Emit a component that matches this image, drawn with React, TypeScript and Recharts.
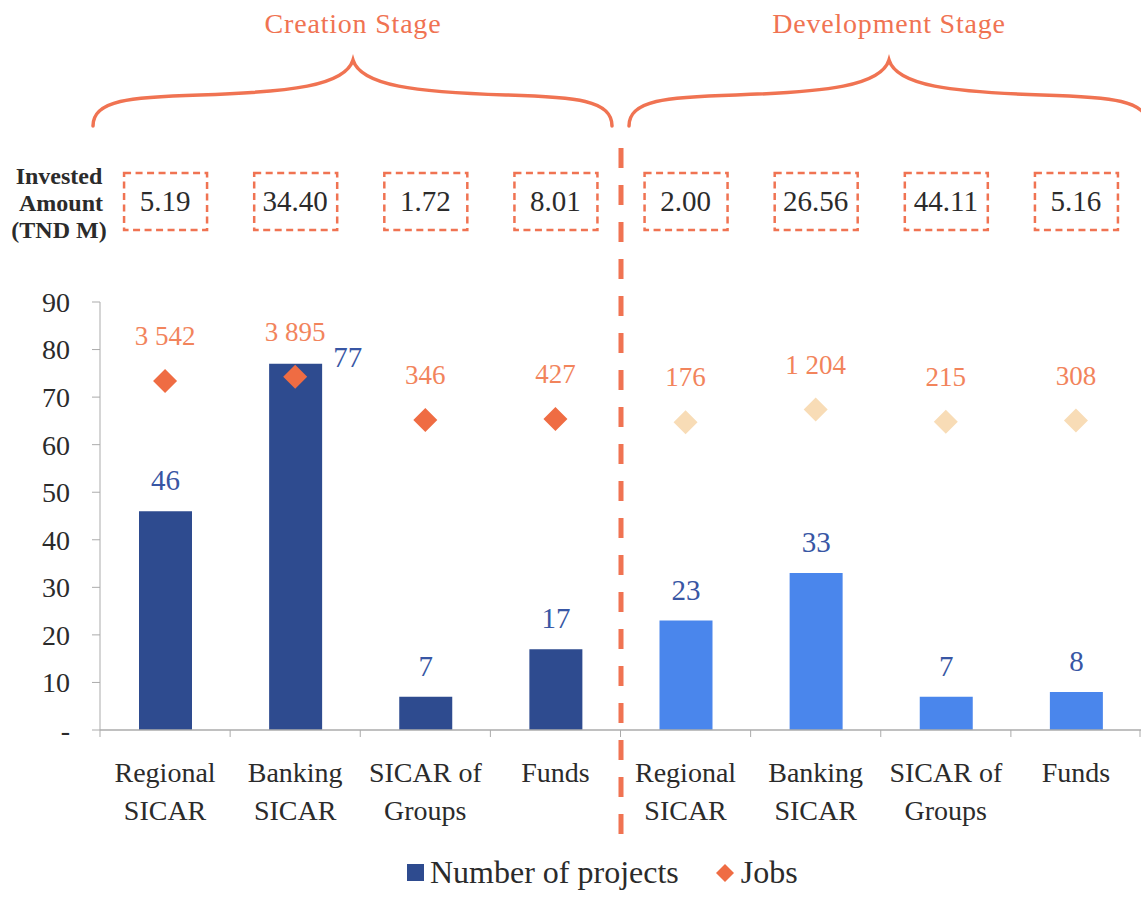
import { ComposedChart, Bar, Line, XAxis, YAxis, Cell, LabelList, Legend } from 'recharts';

const categories = [
  'Regional\nSICAR', 'Banking\nSICAR', 'SICAR of\nGroups', 'Funds',
  'Regional\nSICAR', 'Banking\nSICAR', 'SICAR of\nGroups', 'Funds',
];
const stages = ['Creation', 'Creation', 'Creation', 'Creation', 'Development', 'Development', 'Development', 'Development'];
const projects = [46, 77, 7, 17, 23, 33, 7, 8];
const jobs = [3542, 3895, 346, 427, 176, 1204, 215, 308];
const invested = ['5.19', '34.40', '1.72', '8.01', '2.00', '26.56', '44.11', '5.16'];
const yTicks = [0, 10, 20, 30, 40, 50, 60, 70, 80, 90];

const data = categories.map((name, i) => ({
  name,
  stage: stages[i],
  projects: projects[i],
  jobs: jobs[i],
}));

const W = 1141;
const H = 897;
const FONT = "'Liberation Serif', 'DejaVu Serif', serif";
const ORANGE = '#F07352';
const LABEL_ORANGE = '#F2845C';
const TEXT = '#2b2b2b';
const AXIS = '#ABABAB';
const Y_MAX = 90;
const JOBS_DOMAIN: [number, number] = [-25000, 10000];
const MARGIN = { top: 302, right: 0, bottom: 67, left: 0 };
const X_AXIS_H = 100;
const AXIS_Y = H - MARGIN.bottom - X_AXIS_H;

const barColor = (stage: string) => (stage === 'Creation' ? '#2E4B8F' : '#4A86EC');
const jobColor = (stage: string) => (stage === 'Creation' ? '#EF6C43' : '#F8DCB6');

function CategoryTick(props: any) {
  const { x, payload, index } = props;
  const half = payload?.offset || 65;
  const raw = payload?.value;
  const label = typeof raw === 'number' ? categories[raw] : String(raw);
  const lines = label.split('\n');
  const isLast = index === categories.length - 1;
  return (
    <g>
      <line x1={x - half} x2={x - half} y1={AXIS_Y} y2={AXIS_Y + 7} stroke={AXIS} />
      {isLast && <line x1={x + half - 1} x2={x + half - 1} y1={AXIS_Y} y2={AXIS_Y + 7} stroke={AXIS} />}
      <text x={x} y={AXIS_Y + 52} textAnchor="middle" fontFamily={FONT} fontSize={28} fill={TEXT}>
        {lines.map((l, i) => (
          <tspan key={i} x={x} dy={i === 0 ? 0 : 38}>{l}</tspan>
        ))}
      </text>
      {/* invested amount box above the plot */}
      <rect x={x - 41} y={173} width={83} height={57} fill="none" stroke={ORANGE} strokeWidth={2.5} strokeDasharray="7 4.5" />
      <text x={x} y={211} textAnchor="middle" fontFamily={FONT} fontSize={29} fill={TEXT}>
        {invested[index]}
      </text>
    </g>
  );
}

function BarValueLabel(props: any) {
  const x = Number(props.x);
  const y = Number(props.y);
  const width = Number(props.width);
  const { value, index } = props;
  const jobsLevel = ((jobs[index] - JOBS_DOMAIN[0]) / (JOBS_DOMAIN[1] - JOBS_DOMAIN[0])) * Y_MAX;
  const color = '#3856A4';
  if (value > jobsLevel) {
    return (
      <text x={x + width + 11} y={y + 3} textAnchor="start" fontFamily={FONT} fontSize={29} fill={color}>
        {value}
      </text>
    );
  }
  return (
    <text x={x + width / 2} y={y - 21} textAnchor="middle" fontFamily={FONT} fontSize={29} fill={color}>
      {value}
    </text>
  );
}

function JobsLabel(props: any) {
  const x = Number(props.x);
  const y = Number(props.y);
  const v = Number(props.value);
  const txt = v.toLocaleString('en-US').replace(/,/g, ' ');
  return (
    <text x={x} y={y - 36} textAnchor="middle" fontFamily={FONT} fontSize={27} fill={LABEL_ORANGE}>
      {txt}
    </text>
  );
}

function Diamond(props: any) {
  const { cx, cy, index } = props;
  if (cx == null || cy == null) return null;
  const r = 12;
  return (
    <polygon
      key={`d-${index}`}
      points={`${cx},${cy - r} ${cx + r},${cy} ${cx},${cy + r} ${cx - r},${cy}`}
      fill={jobColor(stages[index])}
    />
  );
}

function LegendContent() {
  return (
    <div style={{ display: 'flex', alignItems: 'center', fontFamily: FONT, fontSize: 32, color: TEXT, whiteSpace: 'nowrap' }}>
      <span style={{ display: 'inline-block', width: 17, height: 17, background: '#2E4B8F', marginRight: 6 }} />
      <span>Number of projects</span>
      <svg width={20} height={20} style={{ marginLeft: 36, marginRight: 6 }}>
        <polygon points="10,1 19,10 10,19 1,10" fill="#EF6C43" />
      </svg>
      <span>Jobs</span>
    </div>
  );
}

function Overlay() {
  return (
    <svg width={W} height={H} style={{ position: 'absolute', left: 0, top: 0, pointerEvents: 'none' }}>
      <text x={353} y={33} textAnchor="middle" fontFamily={FONT} fontSize={28} fill={ORANGE} letterSpacing={0.8}>
        Creation Stage
      </text>
      <text x={889} y={33} textAnchor="middle" fontFamily={FONT} fontSize={28} fill={ORANGE} letterSpacing={0.8}>
        Development Stage
      </text>
      <path
        d="M 93 126 C 93 100, 130 97, 200 95 C 290 92, 345 86, 353 60 C 361 86, 416 92, 506 95 C 576 97, 612 100, 612 126"
        fill="none" stroke={ORANGE} strokeWidth={3.5} strokeLinecap="round"
      />
      <path
        d="M 629 126 C 629 100, 666 97, 736 95 C 826 92, 881 86, 889 60 C 897 86, 952 92, 1042 95 C 1112 97, 1148 100, 1148 126"
        fill="none" stroke={ORANGE} strokeWidth={3.5} strokeLinecap="round"
      />
      <line x1={621} x2={621} y1={148} y2={842} stroke={ORANGE} strokeWidth={5} strokeDasharray="20 17" />
      <text textAnchor="middle" fontFamily={FONT} fontSize={24} fontWeight="bold" fill={TEXT}>
        <tspan x={59} y={184}>Invested</tspan>
        <tspan x={61} y={211}>Amount</tspan>
        <tspan x={59} y={238}>(TND M)</tspan>
      </text>
    </svg>
  );
}

export default function App() {
  return (
    <div style={{ position: 'relative', width: W, height: H, background: '#fff' }}>
      <style>{`body{margin:0}`}</style>
      <ComposedChart width={W} height={H} data={data} margin={MARGIN}>
        <XAxis
          dataKey="name"
          height={X_AXIS_H}
          interval={0}
          tickLine={false}
          axisLine={{ stroke: AXIS, strokeWidth: 1.5 }}
          tick={<CategoryTick />}
        />
        <YAxis
          yAxisId="left"
          width={100}
          domain={[0, Y_MAX]}
          ticks={yTicks}
          interval={0}
          tickSize={8}
          tickMargin={22}
          tickLine={{ stroke: AXIS }}
          axisLine={{ stroke: AXIS }}
          tickFormatter={(v: number) => (v === 0 ? '-' : String(v))}
          tick={{ fill: TEXT, fontSize: 28, fontFamily: FONT }}
        />
        <YAxis yAxisId="jobs" orientation="right" domain={JOBS_DOMAIN} hide />
        <Legend
          layout="vertical"
          align="center"
          verticalAlign="middle"
          content={<LegendContent />}
          wrapperStyle={{ top: 854, left: 407, width: 'auto', height: 40 }}
        />
        <Bar yAxisId="left" dataKey="projects" name="Number of projects" barSize={53} isAnimationActive={false}>
          {data.map((d, i) => (
            <Cell key={i} fill={barColor(d.stage)} />
          ))}
          <LabelList dataKey="projects" content={<BarValueLabel />} />
        </Bar>
        <Line
          yAxisId="jobs"
          dataKey="jobs"
          name="Jobs"
          stroke="none"
          dot={<Diamond />}
          activeDot={false}
          isAnimationActive={false}
        >
          <LabelList dataKey="jobs" content={<JobsLabel />} />
        </Line>
      </ComposedChart>
      <Overlay />
    </div>
  );
}
